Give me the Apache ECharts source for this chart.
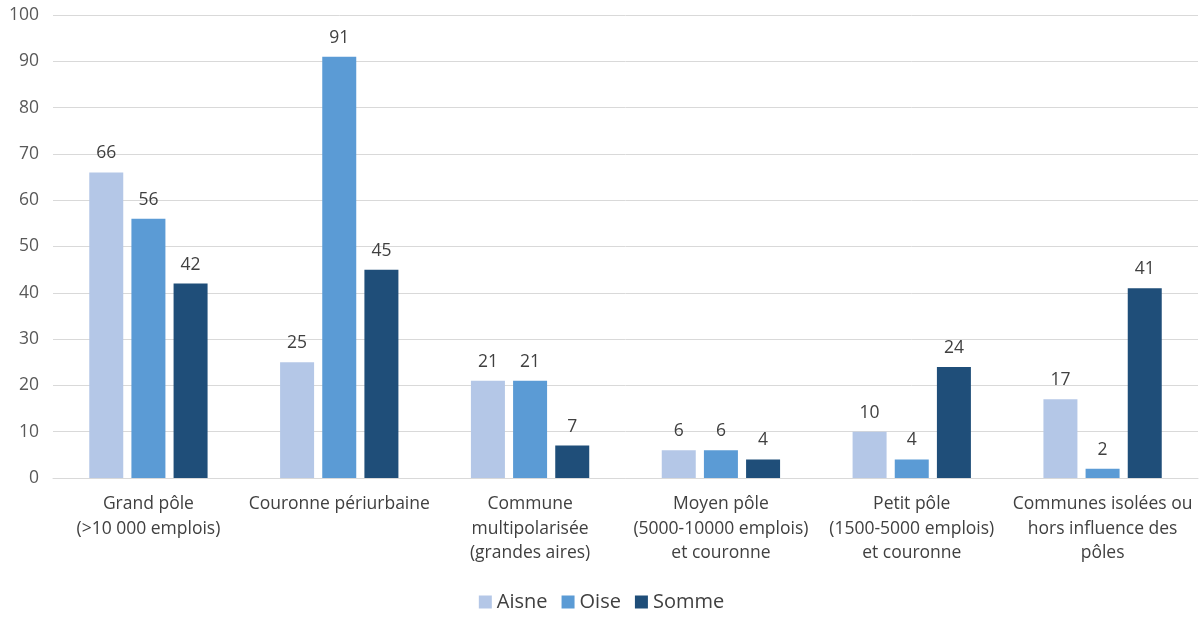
<!DOCTYPE html>
<html><head><meta charset="utf-8">
<script src="https://cdn.jsdelivr.net/npm/echarts@6/dist/echarts.min.js"></script>
<style>html,body{margin:0;padding:0;background:#fff}#c{width:1203px;height:617px}</style>
</head><body><div id="c"></div>
<script>
const categories = ["Grand pôle\n(>10 000 emplois)", "Couronne périurbaine", "Commune\nmultipolarisée\n(grandes aires)", "Moyen pôle\n(5000-10000 emplois)\net couronne", "Petit pôle\n(1500-5000 emplois)\net couronne", "Communes isolées ou\nhors influence des\npôles"];
const aisne = [66, 25, 21, 6, 10, 17];
const oise = [56, 91, 21, 6, 4, 2];
const somme = [42, 45, 7, 4, 24, 41];
const seriesNames = ["Aisne", "Oise", "Somme"];
const colors = ["#b4c7e7", "#5b9bd5", "#1f4e79"];
const font = "Open Sans";
const chart = echarts.init(document.getElementById('c'), null, {renderer: 'canvas'});
const mk = (name, data, color) => ({
  name, type: 'bar', data, barWidth: 34, barGap: '24%',
  itemStyle: {color},
  label: {show: true, position: 'top', distance: 10, color: '#404040', fontFamily: font, fontSize: 17.5}
});
chart.setOption({
  animation: false,
  textStyle: {fontFamily: font},
  grid: {left: 53, right: 5, top: 15, bottom: 139, containLabel: false},
  legend: {
    bottom: 0, left: 'center', itemWidth: 13, itemHeight: 13, itemGap: 14,
    icon: 'rect',
    textStyle: {color: '#404040', fontSize: 20, fontFamily: font, padding: [0, 0, 0, 0]},
    data: seriesNames
  },
  xAxis: {
    type: 'category', data: categories,
    axisLine: {lineStyle: {color: '#d9d9d9'}},
    axisTick: {show: false},
    axisLabel: {color: '#404040', fontSize: 17.5, fontFamily: font, lineHeight: 24.5, margin: 14, interval: 0}
  },
  yAxis: {
    type: 'value', min: 0, max: 100, interval: 10,
    axisLine: {show: false}, axisTick: {show: false},
    splitLine: {lineStyle: {color: '#d9d9d9'}},
    axisLabel: {color: '#595959', fontSize: 17.5, fontFamily: font, margin: 14}
  },
  series: [mk(seriesNames[0], aisne, colors[0]), mk(seriesNames[1], oise, colors[1]), mk(seriesNames[2], somme, colors[2])]
});
</script></body></html>
